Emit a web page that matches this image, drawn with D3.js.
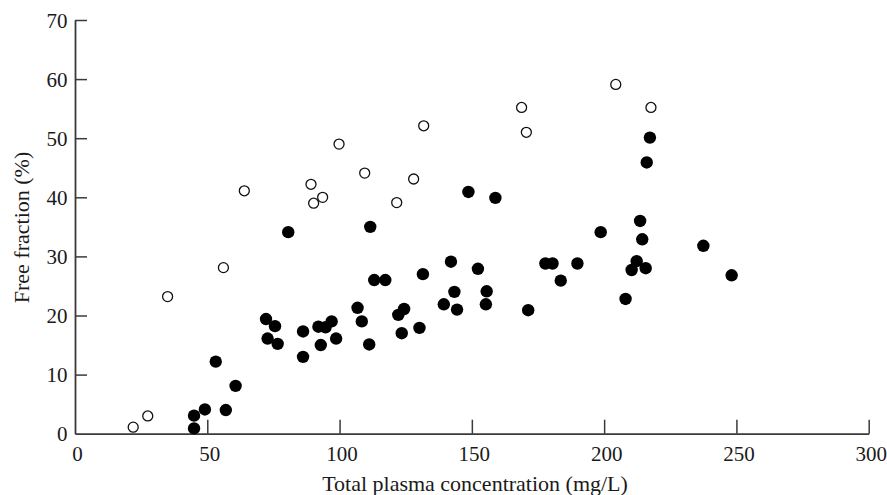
<!DOCTYPE html>
<html>
<head>
<meta charset="utf-8">
<script src="https://cdn.jsdelivr.net/npm/d3@7"></script>
<style>
  html, body { margin: 0; padding: 0; background: #fff; }
  svg { display: block; }
  svg text { font-family: "Liberation Serif", "Times New Roman", serif; fill: #1a1a1a; }
</style>
</head>
<body>
<svg id="chart" width="887" height="495"></svg>
<script>
// Filled circles: [total plasma concentration (mg/L), free fraction (%)]
const filledX = [45.0, 45.0, 49.1, 53.2, 57.0, 60.7, 72.2, 75.6, 72.8, 76.6, 80.6,
  86.2, 86.2, 92.0, 94.7, 97.0, 92.9, 98.7, 106.8, 108.4, 111.2, 111.6, 113.1, 117.3,
  122.2, 124.4, 123.5, 130.2, 131.5, 139.4, 142.1, 143.4, 144.4, 148.7, 152.3, 155.6,
  155.3, 158.9, 171.3, 177.8, 180.5, 183.6, 189.9,
  217.3, 216.1, 198.7, 213.6, 214.4, 212.3, 210.4, 215.7, 208.1, 237.5, 248.2];
const filledY = [0.9, 3.05, 4.1, 12.2, 4.0, 8.1, 19.4, 18.2, 16.1, 15.2, 34.1,
  17.3, 13.0, 18.1, 18.0, 19.0, 15.0, 16.1, 21.3, 19.0, 15.1, 35.0, 26.0, 26.0,
  20.1, 21.1, 17.0, 17.9, 27.0, 21.9, 29.1, 24.0, 21.0, 40.9, 27.9, 24.1,
  21.9, 39.9, 20.9, 28.8, 28.8, 25.9, 28.8,
  50.1, 45.9, 34.1, 36.0, 32.9, 29.2, 27.7, 28.0, 22.8, 31.8, 26.8];
// Open circles
const openX = [22.0, 27.5, 35.0, 56.1, 64.0, 89.2, 90.2, 93.6, 99.8, 109.5, 121.6,
  128.0, 131.8, 168.8, 170.6, 204.4, 217.7];
const openY = [1.1, 3.0, 23.2, 28.1, 41.1, 42.2, 39.0, 40.0, 49.0, 44.1, 39.1,
  43.1, 52.1, 55.2, 51.0, 59.1, 55.2];

const xTicks = [0, 50, 100, 150, 200, 250, 300];
const yTicks = [0, 10, 20, 30, 40, 50, 60, 70];
const xTitle = "Total plasma concentration (mg/L)";
const yTitle = "Free fraction (%)";

const svg = d3.select("#chart");
const x = d3.scaleLinear().domain([0, 300]).range([75, 868.7]);
const y = d3.scaleLinear().domain([0, 70]).range([433.7, 20]);
const axisColor = "#3a3a3a";
const fontFam = "'Liberation Serif', 'Times New Roman', serif";

// X axis (ticks pointing up, inside)
const gx = svg.append("g").attr("transform", `translate(0,${y(0)})`)
  .call(d3.axisBottom(x).tickValues(xTicks).tickSize(0).tickPadding(0).tickFormat(d3.format("d")));
gx.attr("font-family", fontFam);
gx.select(".domain").attr("stroke", axisColor).attr("stroke-width", 1.8);
gx.selectAll(".tick line").remove();
gx.selectAll(".tick").filter(d => d !== 0).append("line")
  .attr("y1", 0).attr("y2", -14).attr("stroke", axisColor).attr("stroke-width", 1.5);
gx.selectAll(".tick text").attr("x", 2).attr("y", 27).attr("dy", 0)
  .style("font-size", "21px").style("font-family", fontFam).attr("fill", "#1a1a1a");

// Y axis (ticks pointing right, inside)
const gy = svg.append("g").attr("transform", `translate(${x(0)},0)`)
  .call(d3.axisLeft(y).tickValues(yTicks).tickSize(0).tickPadding(0).tickFormat(d3.format("d")));
gy.attr("font-family", fontFam);
gy.select(".domain").attr("stroke", axisColor).attr("stroke-width", 1.8);
gy.selectAll(".tick line").remove();
gy.selectAll(".tick").filter(d => d !== 0).append("line")
  .attr("x1", 0).attr("x2", 12).attr("stroke", axisColor).attr("stroke-width", 1.5);
gy.selectAll(".tick text").attr("x", -7.5).attr("dy", "0.34em")
  .style("font-size", "21px").style("font-family", fontFam).attr("fill", "#1a1a1a");

// Axis titles
svg.append("text").attr("x", 475).attr("y", 490.5)
  .attr("text-anchor", "middle").style("font-size", "22px").style("font-family", fontFam)
  .text(xTitle);
svg.append("text").attr("transform", "translate(28.5,227.5) rotate(-90)")
  .attr("text-anchor", "middle").style("font-size", "22px").style("font-family", fontFam)
  .text(yTitle);

// Points
const filled = filledX.map((v, i) => [v, filledY[i]]);
const open = openX.map((v, i) => [v, openY[i]]);

svg.append("g").selectAll("circle").data(open).join("circle")
  .attr("cx", d => x(d[0])).attr("cy", d => y(d[1])).attr("r", 5)
  .attr("fill", "#fff").attr("stroke", "#111").attr("stroke-width", 1.3);

svg.append("g").selectAll("circle").data(filled).join("circle")
  .attr("cx", d => x(d[0])).attr("cy", d => y(d[1])).attr("r", 6.2)
  .attr("fill", "#000");
</script>
</body>
</html>
